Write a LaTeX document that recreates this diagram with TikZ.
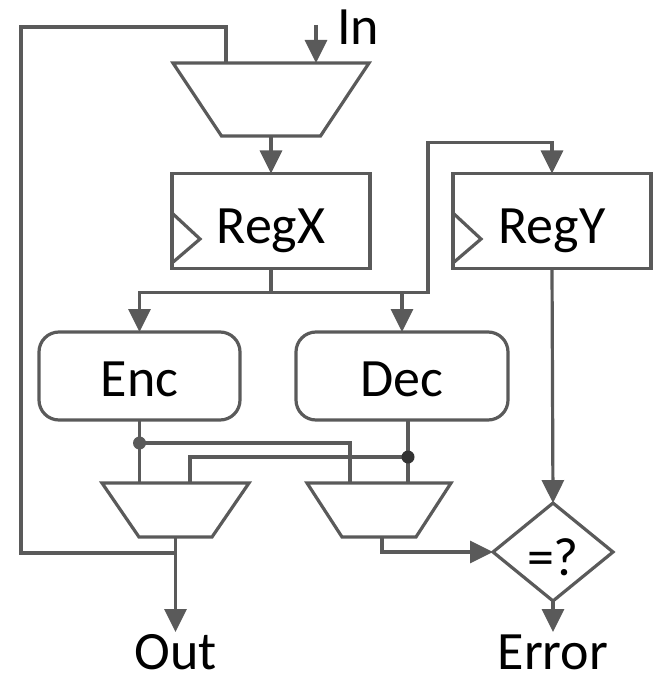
\documentclass[tikz,border=0pt]{standalone}
\usepackage{fontspec}
\setmainfont{Carlito}
\usetikzlibrary{arrows.meta,positioning,calc,shapes.geometric}
\definecolor{wiregray}{HTML}{5A5A5A}
\newcommand{\muxbody}[2]{\draw[wire] (#1.north west) -- (#1.north east) -- ([xshift=-#2]#1.south east) -- ([xshift=#2]#1.south west) -- cycle;}

\begin{document}
\begin{tikzpicture}[x=1pt,y=-1pt,every node/.style={font=\fontsize{54}{60}\selectfont,inner sep=0pt,outer sep=0pt,text height=35pt,text depth=0pt},
  wire/.style={draw=wiregray,line width=3.2pt},
  arr/.style={wire,-{Triangle[length=23pt,width=22pt]}},
  reg/.style={wire,minimum width=198pt,minimum height=95pt,text height=44pt},
  blk/.style={wire,rounded corners=20pt,minimum height=88pt,text height=40pt}]
\useasboundingbox (0,0) rectangle (655,679);
\node[minimum width=196pt,minimum height=73pt] (muxa) at (271,99.5) {};
\node[reg] (regx) at (271,221) {RegX};
\node[reg] (regy) at (552,221) {RegY};
\node[blk,minimum width=201pt] (enc) at (139.5,376) {Enc};
\node[blk,minimum width=212pt] (dec) at (402,376) {Dec};
\node[minimum width=147pt,minimum height=54pt] (muxb) at (175.5,510) {};
\node[minimum width=144pt,minimum height=54pt] (muxc) at (379,510) {};
\node[diamond,wire,minimum width=120pt,minimum height=96pt,text height=46pt] (eq) at (553,552) {=?};
\node[anchor=west] (intxt) at (337,27) {In};
\node[anchor=north] (out) at (175.5,634) {Out};
\node[anchor=north] (err) at (553,634) {Error};
\coordinate (inpin) at (316,25);
\muxbody{muxa}{48.5pt}
\muxbody{muxb}{37pt}
\muxbody{muxc}{35pt}
% clock marks
\draw[wire] ([yshift=8pt]regx.west) -- ++(28,26) -- ++(-28,24);
\draw[wire] ([yshift=8pt]regy.west) -- ++(28,26) -- ++(-28,24);
% input and feedback
\draw[arr] (inpin) -- (inpin |- muxa.north);
\draw[wire] (muxb.south) ++(0,16) -| (21,27) -| ([xshift=-45pt]muxa.north);
\draw[arr] (muxa.south) -- (regx.north);
\draw[arr] (regx.south) -- ++(0,24) -| (enc.north);
\draw[arr] (regx.south) -- ++(0,24) -| (dec.north);
\draw[arr] (regx.south) -- ++(0,24) -- ++(157,0) |- ([yshift=31pt]regy.north) -- (regy.north);
% crossing into the muxes
\coordinate (encdot) at ([yshift=-23pt]enc.south);
\coordinate (decdot) at ([xshift=6pt,yshift=-37pt]dec.south);
\draw[wire] (enc.south) -- (enc.south |- muxb.north);
\draw[wire] (encdot) -| ([xshift=-29pt]muxc.north);
\draw[wire] ([xshift=6pt]dec.south) -- ([xshift=29pt]muxc.north);
\draw[wire] (decdot) -| ([xshift=14.5pt]muxb.north);
\fill[wiregray] (encdot) circle (6.5pt);
\fill[black!80] (decdot) circle (6.5pt);
% outputs
\draw[arr,shorten >=2pt] (muxb.south) -- (out.north);
\draw[arr] ([xshift=3pt]muxc.south) |- (eq.west);
\draw[arr] (regy.south) -- (eq.north);
\draw[arr,shorten >=2pt] (eq.south) -- (err.north);
\end{tikzpicture}
\end{document}
